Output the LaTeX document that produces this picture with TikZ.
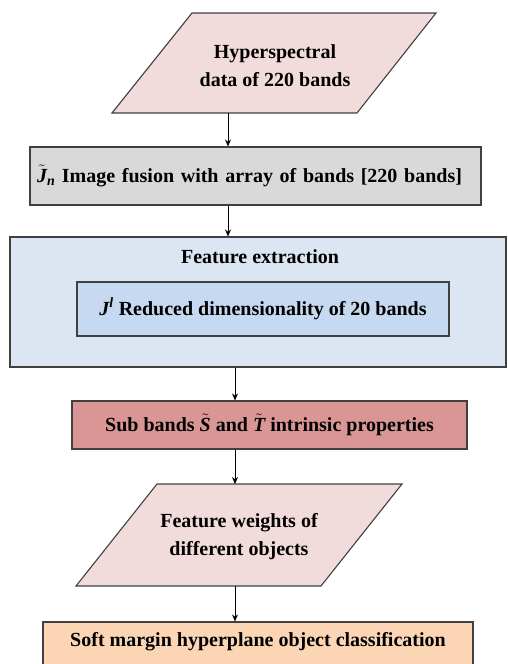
\documentclass[tikz,border=0pt]{standalone}
\usepackage{amsmath}
\usepackage{fontspec}
\setmainfont{Liberation Serif}[
    BoldFont={Liberation Serif Bold},
    ItalicFont={Liberation Serif Italic},
    BoldItalicFont={Liberation Serif Bold Italic}]
\usetikzlibrary{
    arrows.meta,             % For arrow tips
    positioning              % For relative placement
}
\definecolor{datapink}{HTML}{F2DCDB}
\definecolor{fusegray}{HTML}{D9D9D9}
\definecolor{outerblue}{HTML}{DCE6F2}
\definecolor{innerblue}{HTML}{C6D9F1}
\definecolor{subred}{HTML}{D99694}
\definecolor{classpeach}{HTML}{FCD5B5}
\definecolor{edgegray}{HTML}{404040}
\newcommand{\bvar}[1]{\text{\itshape #1}}

\begin{document}
\begin{tikzpicture}[
    x=1pt, y=-1pt,
    font=\bfseries\fontsize{20}{28}\selectfont,
    box/.style={draw=edgegray, line width=1.1pt, inner sep=0pt},
    io/.style={draw=edgegray, line width=1.1pt},
    flow/.style={-{Stealth[length=7pt, width=6pt]}, line width=0.9pt}
]
    \useasboundingbox (0,0) rectangle (507,664);

    % --- Input data ---
    \draw[io, fill=datapink] (112,113) -- (192,13) -- (436,13) -- (357,113) -- cycle;
    \node[align=center] (data) at (275,66) {Hyperspectral\\data of 220 bands};
    \coordinate (dataout) at (228,113);

    % --- Image fusion ---
    \node[box, fill=fusegray, minimum width=451pt, minimum height=58pt,
          text width=437pt, inner xsep=7pt, align=left] (fusion) at (255.5,176)
        {$\tilde{\bvar{J}}_{\bvar{n}}$ Image fusion with array of bands [220 bands]};

    % --- Feature extraction ---
    \node[box, fill=outerblue, minimum width=496pt, minimum height=130pt] (extract) at (258,302) {};
    \node (extractlabel) at (260,257) {Feature extraction};
    \node[box, fill=innerblue, minimum width=372pt, minimum height=54pt] (reduce) at (263,309)
        {$\bvar{J}^{\bvar{l}}$ Reduced dimensionality of 20 bands};

    % --- Sub bands ---
    \node[box, fill=subred, minimum width=395pt, minimum height=48pt] (subbands) at (269.5,425)
        {Sub bands $\tilde{\bvar{S}}$ and $\tilde{\bvar{T}}$ intrinsic properties};

    % --- Feature weights ---
    \draw[io, fill=datapink] (76,586) -- (157,484) -- (402,484) -- (321,586) -- cycle;
    \node[align=center] (weights) at (239,537) {Feature weights of\\different objects};
    \coordinate (weightsin) at (235,484);
    \coordinate (weightsout) at (235,586);

    % --- Classification ---
    \node[box, fill=classpeach, minimum width=430pt, anchor=base,
          text height=18pt, text depth=30pt, inner ysep=6pt] (classify) at (258,646)
        {Soft margin hyperplane object classification};

    % --- Arrows ---
    \draw[flow] (dataout) -- (dataout |- fusion.north);
    \draw[flow] (dataout |- fusion.south) -- (dataout |- extract.north);
    \draw[flow] (weightsin |- extract.south) -- (weightsin |- subbands.north);
    \draw[flow] (weightsin |- subbands.south) -- (weightsin);
    \draw[flow] (weightsout) -- (weightsout |- classify.north);
\end{tikzpicture}
\end{document}
